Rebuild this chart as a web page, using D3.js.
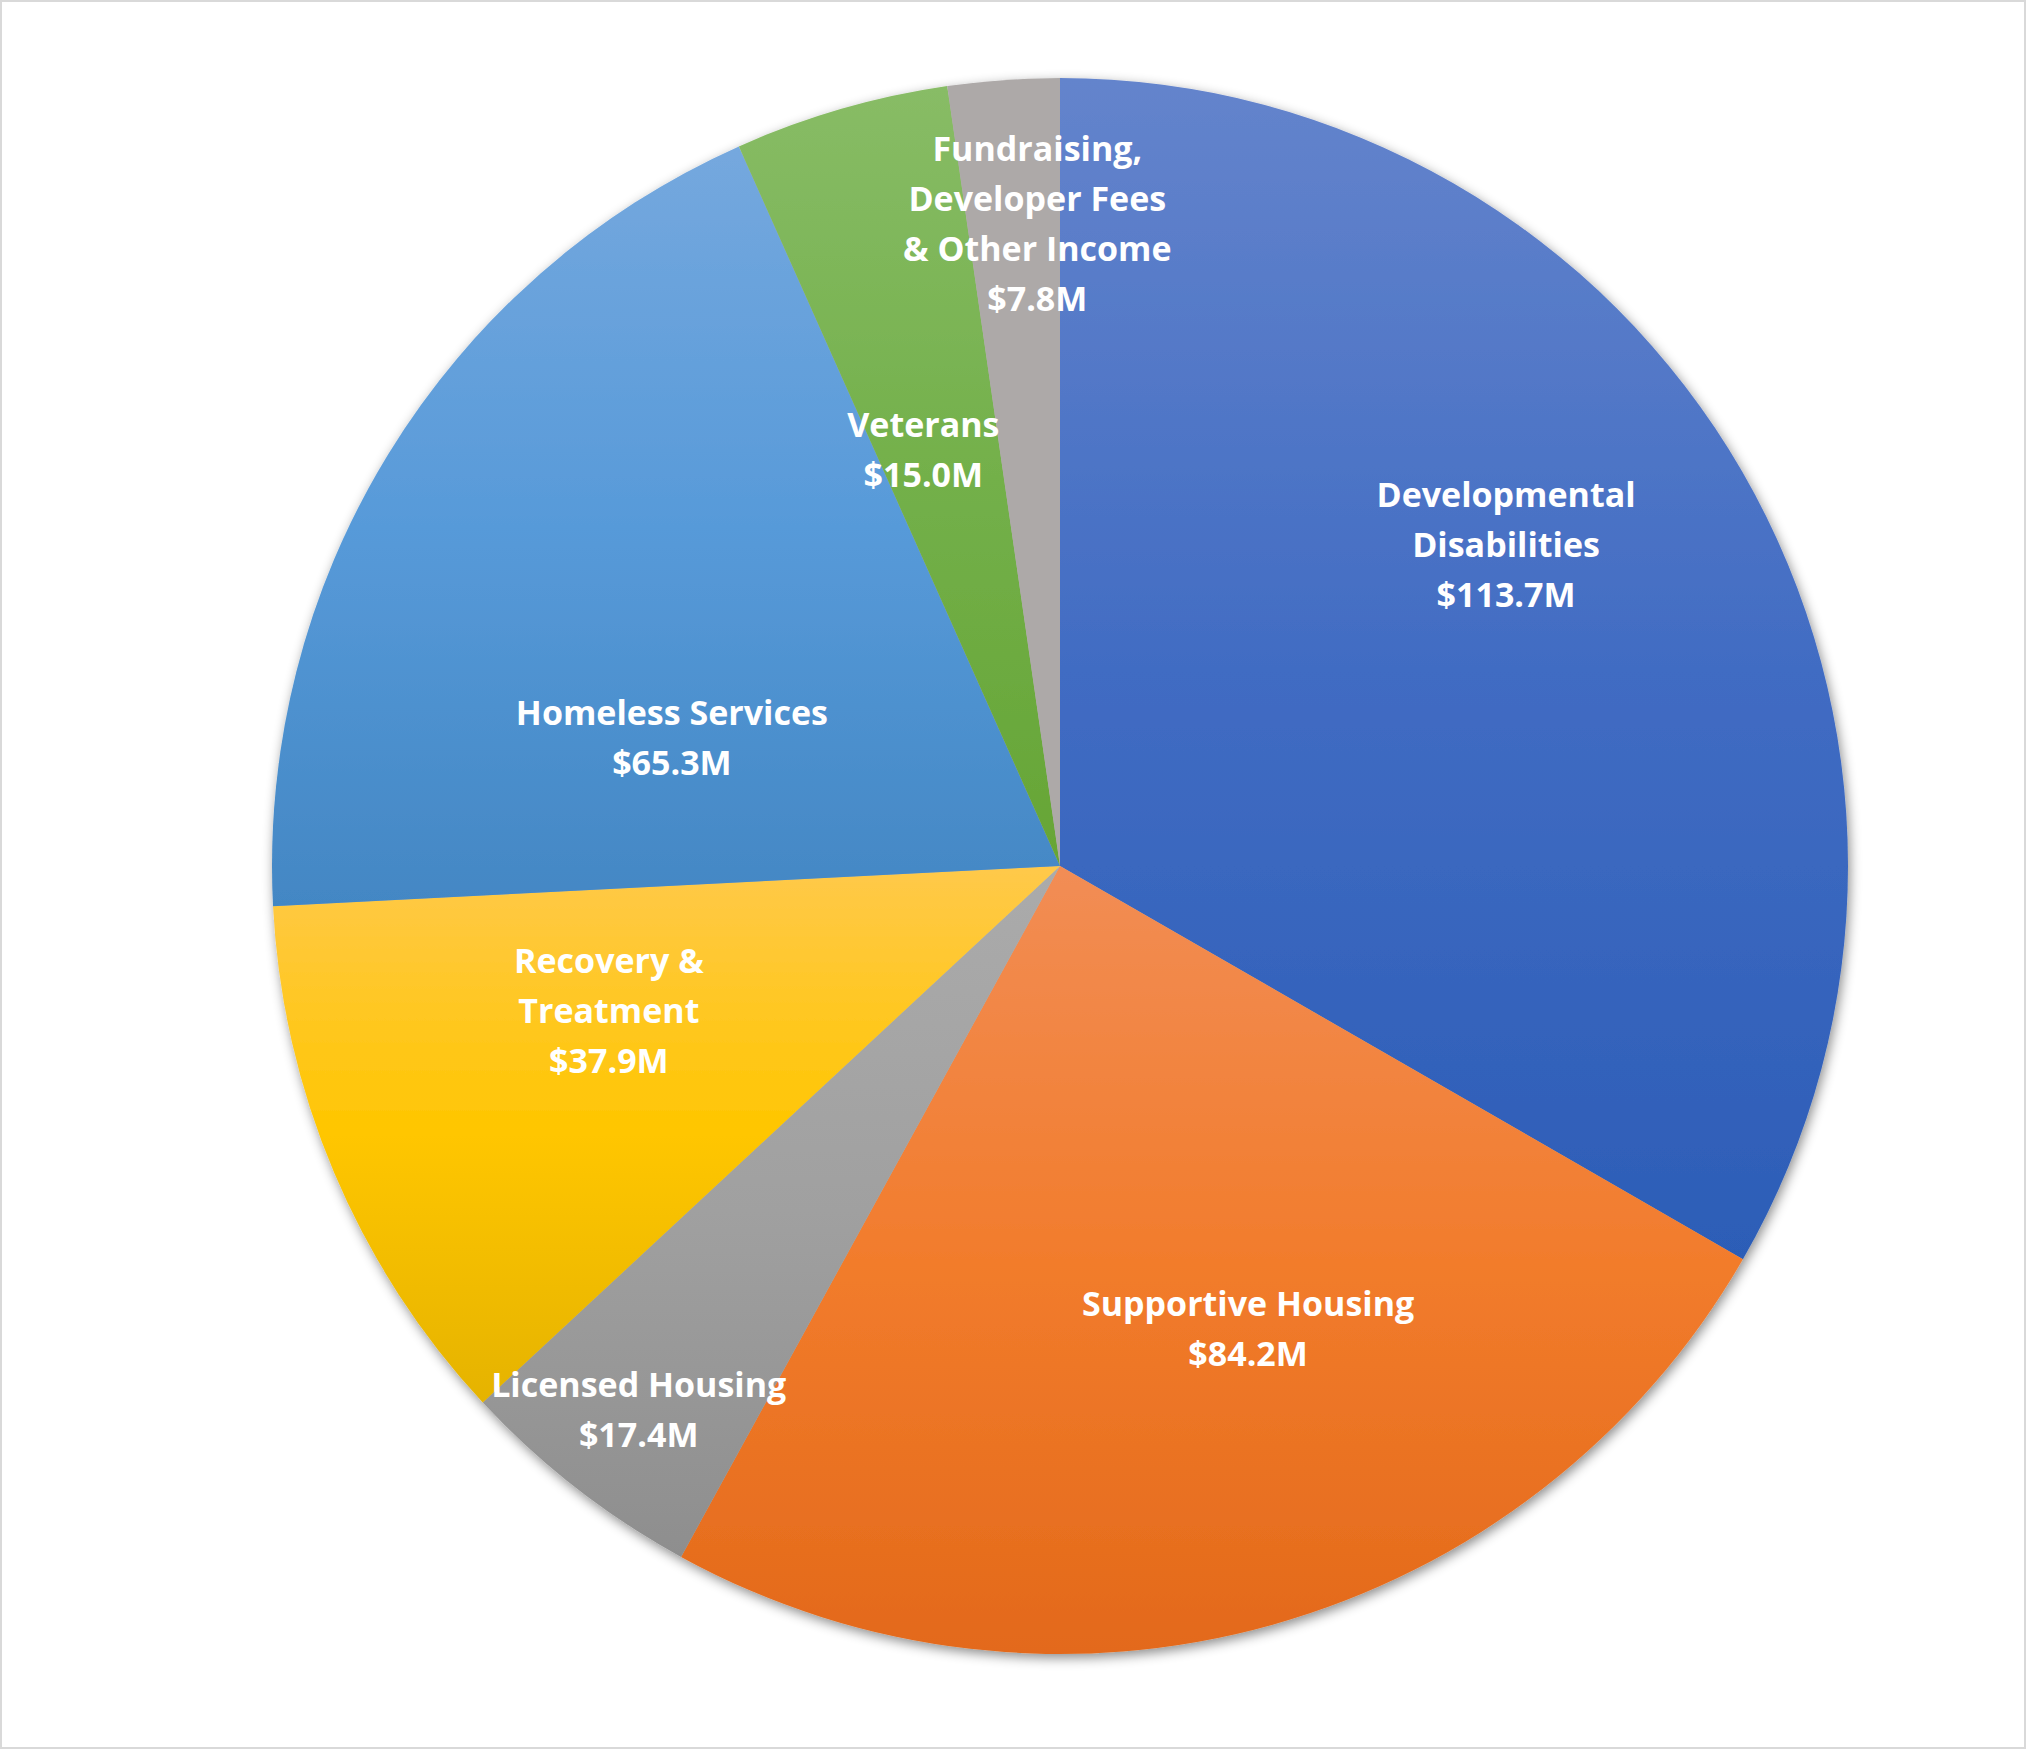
<!DOCTYPE html>
<html>
<head>
<meta charset="utf-8">
<script src="https://cdn.jsdelivr.net/npm/d3@7"></script>
<style>
  body { margin: 0; background: #fff; }
  text { font-family: "Open Sans", sans-serif; font-weight: 700; fill: #fff; }
</style>
</head>
<body>
<script>
// Width and height
var w = 2027;
var h = 1750;

// Data (clockwise from 12 o'clock)
var categories = ["Developmental\nDisabilities", "Supportive Housing", "Licensed Housing",
    "Recovery &\nTreatment", "Homeless Services", "Veterans",
    "Fundraising,\nDeveloper Fees\n& Other Income"];
var values = [113.7, 84.2, 17.4, 37.9, 65.3, 15.0, 7.8];

// Slice colours: [top tint, base, bottom shade]
var colors = [
    ["#6484CC", "#416CC3", "#2C5DB7"],
    ["#F28D55", "#F27C2C", "#E3691A"],
    ["#ABABAB", "#A0A0A0", "#8E8E8E"],
    ["#FFC94A", "#FFC600", "#E5B300"],
    ["#75A8DE", "#579AD9", "#4387C4"],
    ["#88BC66", "#73B04A", "#66A535"],
    ["#ADA9A8", "#ADA9A8", "#ADA9A8"]
];

// Label placement: angle shift (deg) from slice middle, radius fraction
var labelPlace = [[-6, 0.70], [-6.6, 0.63], [0, 0.87], [5.5, 0.60], [-12.8, 0.52], [-1.9, 0.56], [2.1, 0.82]];

var cx = 1060, cy = 866, radius = 788;
var lineH = 50;
var fmt = d3.format(".1f");

var data = categories.map(function (c, i) { return { name: c, value: values[i], i: i }; });

var svg = d3.select("body")
    .append("svg")
    .attr("width", w)
    .attr("height", h);

// frame
svg.append("rect")
    .attr("x", 1).attr("y", 1)
    .attr("width", w - 3).attr("height", h - 3)
    .style("fill", "#fff")
    .style("stroke", "#D9D9D9")
    .style("stroke-width", 2);

var defs = svg.append("defs");

var shadow = defs.append("filter")
    .attr("id", "shadow")
    .attr("x", "-10%").attr("y", "-10%")
    .attr("width", "120%").attr("height", "120%");
shadow.append("feDropShadow")
    .attr("dx", 2).attr("dy", 4)
    .attr("stdDeviation", 6)
    .attr("flood-color", "#000")
    .attr("flood-opacity", 0.45);

data.forEach(function (d) {
    var g = defs.append("linearGradient")
        .attr("id", "grad" + d.i)
        .attr("x1", 0).attr("y1", 0)
        .attr("x2", 0).attr("y2", 1);
    g.append("stop").attr("offset", "0%").attr("stop-color", colors[d.i][0]);
    g.append("stop").attr("offset", "50%").attr("stop-color", colors[d.i][1]);
    g.append("stop").attr("offset", "100%").attr("stop-color", colors[d.i][2]);
});

var pie = d3.pie()
    .value(function (d) { return d.value; })
    .sort(null);

var arc = d3.arc()
    .innerRadius(0)
    .outerRadius(radius);

var arcs = pie(data);

var chart = svg.append("g")
    .attr("transform", "translate(" + cx + "," + cy + ")");

chart.append("g")
    .attr("filter", "url(#shadow)")
    .selectAll("path")
    .data(arcs)
    .enter()
    .append("path")
    .attr("d", arc)
    .style("fill", function (d) { return "url(#grad" + d.data.i + ")"; });

// Labels
var labels = chart.append("g")
    .selectAll("text")
    .data(arcs)
    .enter()
    .append("text")
    .attr("text-anchor", "middle")
    .style("font-size", "34px")
    .attr("transform", function (d) {
        var p = labelPlace[d.data.i];
        var a = (d.startAngle + d.endAngle) / 2 + p[0] * Math.PI / 180;
        var r = p[1] * radius;
        return "translate(" + (r * Math.sin(a)) + "," + (-r * Math.cos(a)) + ")";
    });

labels.each(function (d) {
    var lines = d.data.name.split("\n").concat(["$" + fmt(d.data.value) + "M"]);
    var t = d3.select(this);
    var n = lines.length;
    lines.forEach(function (line, k) {
        t.append("tspan")
            .attr("x", 0)
            .attr("y", (k - (n - 1) / 2) * lineH)
            .attr("dy", "0.45em")
            .text(line);
    });
});
</script>
</body>
</html>
